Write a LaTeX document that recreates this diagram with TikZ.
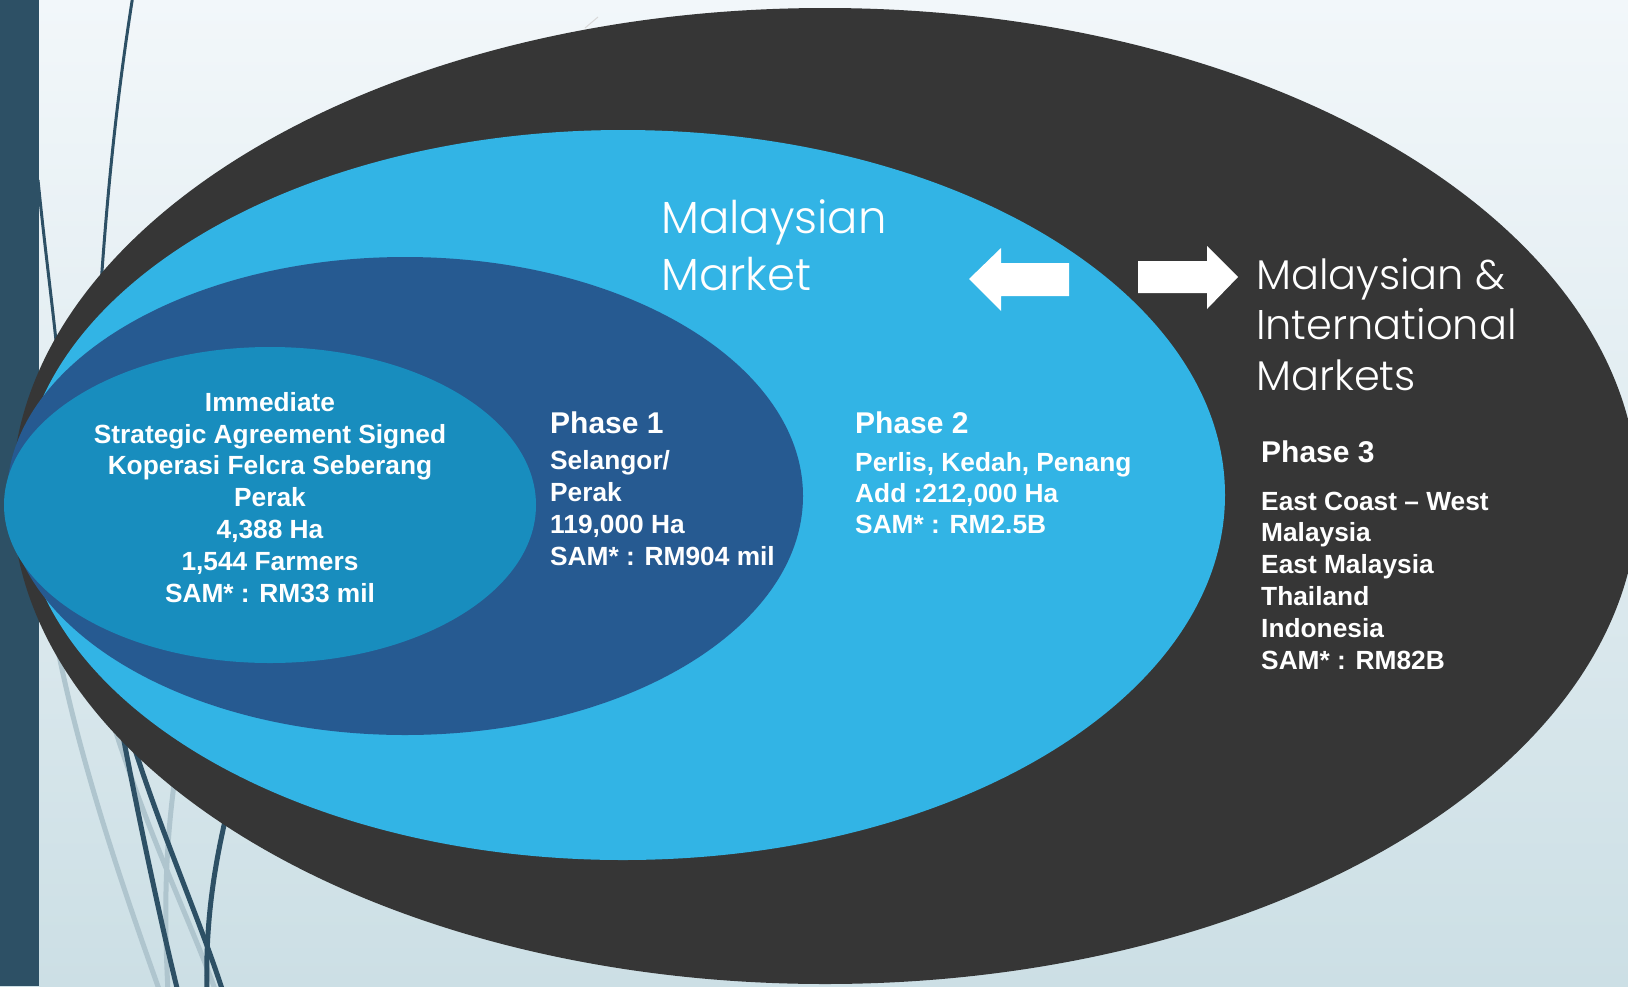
\documentclass[tikz,border=0pt]{standalone}
\usepackage{fontspec}
\setmainfont{Liberation Sans}
\IfFontExistsTF{Poppins Light}{\newfontfamily\titlefont{Poppins Light}}{\newfontfamily\titlefont{Poppins}}
\definecolor{bgtop}{HTML}{F2F7FA}
\definecolor{bgbot}{HTML}{CCDFE5}
\definecolor{strip}{HTML}{2D5065}
\definecolor{paleline}{HTML}{AFC5CE}
\definecolor{outer}{HTML}{363636}
\definecolor{sky}{HTML}{32B4E5}
\definecolor{navy}{HTML}{265A91}
\definecolor{teal}{HTML}{188DBE}
\begin{document}
\begin{tikzpicture}[x=1pt,y=-1pt,
  deco/.style={draw=strip, line width=5pt},
  decopale/.style={draw=paleline, line width=5pt},
  title/.style={text=white, font=\titlefont\fontsize{45}{57}\selectfont, inner sep=0pt, align=left, anchor=base west},
  head/.style={text=white, font=\bfseries\fontsize{30}{36}\selectfont, inner sep=0pt, anchor=base west},
  body/.style={text=white, font=\bfseries\fontsize{26.3}{31.8}\selectfont, inner sep=0pt, align=left, anchor=base west},
  pointer/.style={fill=white}]
\useasboundingbox (0,0) rectangle (1628,986);
% backdrop
\shade[top color=bgtop, bottom color=bgbot] (0,0) rectangle (1628,986);
\fill[strip] (0,0) rectangle (39,986);
% thin decorative strokes behind the rings
\draw[strip, line width=3pt] (133,-5) .. controls (118,90) and (108,180) .. (100,300);
\draw[strip, line width=3pt] (38,180) .. controls (45,250) and (52,300) .. (58,360);
\draw[decopale] (58,650) .. controls (80,760) and (120,880) .. (160,992);
\draw[decopale] (112,720) .. controls (150,840) and (190,920) .. (216,992);
\draw[decopale] (176,770) .. controls (163,860) and (165,930) .. (168,992);
\draw[deco] (120,720) .. controls (135,800) and (160,920) .. (178,992);
\draw[deco] (132,740) .. controls (160,830) and (200,920) .. (223,992);
\draw[deco] (230,800) .. controls (215,860) and (205,920) .. (207,992);
\draw[line width=1pt, draw=gray!30] (585,28) -- (598,17);
% nested market rings
\fill[outer] (825,496) ellipse [x radius=813, y radius=488];
\fill[sky] (623,495) ellipse [x radius=602, y radius=365];
\fill[navy] (405,496) ellipse [x radius=398, y radius=239];
\fill[teal] (270,505) ellipse [x radius=266, y radius=158];
% two-way arrows
\fill[pointer] (969,279) -- (1001,248) -- (1001,263) -- (1069,263) -- (1069,296) -- (1001,296) -- (1001,311) -- cycle;
\fill[pointer] (1138,261) -- (1207,261) -- (1207,246) -- (1238,277) -- (1207,309) -- (1207,293) -- (1138,293) -- cycle;
% labels (multi-line nodes sit on the baseline of their last line)
\node[title] (local) at (661,290) {Malaysian\\Market};
\node[title, font=\titlefont\fontsize{41.5}{50.5}\selectfont] (global) at (1256,390) {Malaysian \&\\International\\Markets};
\node[body, align=center, anchor=base] (now) at (270,602) {Immediate\\Strategic Agreement Signed\\Koperasi Felcra Seberang\\Perak\\4,388 Ha\\1,544 Farmers\\SAM* : RM33 mil};
\node[head] (p1h) at (550,433) {Phase 1};
\node[body] (p1b) at (550,565) {Selangor/\\Perak\\119,000 Ha\\SAM* : RM904 mil};
\node[head] (p2h) at (855,433) {Phase 2};
\node[body, font=\bfseries\fontsize{26.3}{31}\selectfont] (p2b) at (855,533) {Perlis, Kedah, Penang\\Add :212,000 Ha\\SAM* : RM2.5B};
\node[head] (p3h) at (1261,462) {Phase 3};
\node[body] (p3b) at (1261,669) {East Coast – West\\Malaysia\\East Malaysia\\Thailand\\Indonesia\\SAM* : RM82B};
\end{tikzpicture}
\end{document}
